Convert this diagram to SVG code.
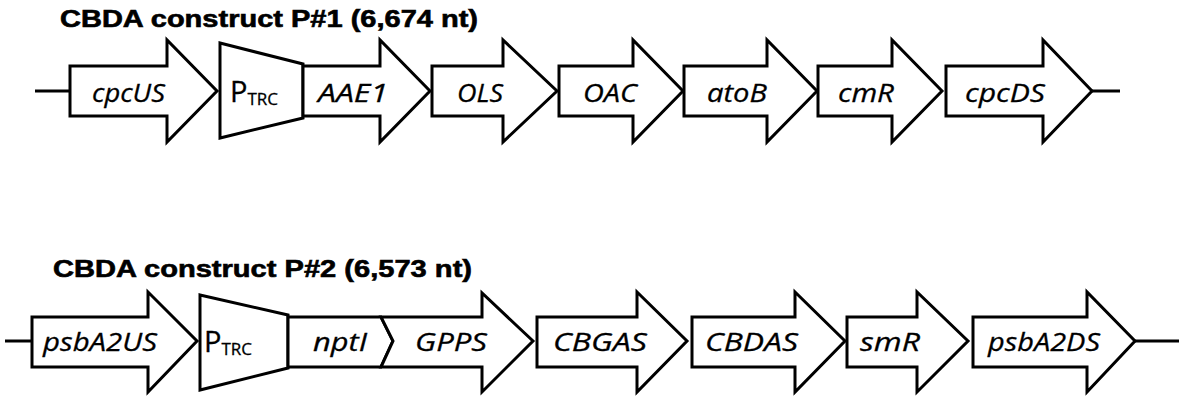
<svg xmlns="http://www.w3.org/2000/svg" width="1179" height="396" viewBox="0 0 1179 396">
<style>
.shape{fill:#fff;stroke:#000;stroke-width:3;stroke-linejoin:miter}
.ln{stroke:#000;stroke-width:3;fill:none}
.title{font-family:"Liberation Sans",Arial,sans-serif;font-weight:bold;font-size:23px;fill:#000;stroke:#000;stroke-width:0.6}
.lab{font-family:"Open Sans","Liberation Sans",sans-serif;font-style:italic;font-size:26px;fill:#000;stroke:#000;stroke-width:0.3}
.p{font-family:"Open Sans","Liberation Sans",sans-serif;font-size:29px;fill:#000;stroke:#000;stroke-width:0.3}
.sub{font-size:17px}
</style>
<rect width="1179" height="396" fill="#fff"/>
<text class="title" x="60" y="27" textLength="418" lengthAdjust="spacingAndGlyphs">CBDA construct P#1 (6,674 nt)</text>
<text class="title" x="53" y="277" textLength="419" lengthAdjust="spacingAndGlyphs">CBDA construct P#2 (6,573 nt)</text>
<g id="connectors">
<line class="ln" x1="35" y1="91" x2="70" y2="91"/>
<line class="ln" x1="1092" y1="91" x2="1120" y2="91"/>
<line class="ln" x1="5" y1="341" x2="32" y2="341"/>
<line class="ln" x1="1135" y1="341" x2="1179" y2="341"/>
</g>
<g id="cpcUS"><polygon class="shape" points="70,66 167,66 167,40 217,91 167,142 167,116 70,116"/><text class="lab" x="92" y="102" textLength="73" lengthAdjust="spacingAndGlyphs">cpcUS</text></g>
<g id="PTRC1"><polygon class="shape" points="220,43 303,64 303,118 220,138"/><text class="p" x="230" y="102">P<tspan class="sub" dy="3">TRC</tspan></text></g>
<g id="AAE1"><polygon class="shape" points="303,66 380,66 380,40 430,91 380,142 380,116 303,116"/><text class="lab" x="318" y="102" textLength="70" lengthAdjust="spacingAndGlyphs">AAE1</text></g>
<g id="OLS"><polygon class="shape" points="432,66 503,66 503,40 557,91 503,142 503,116 432,116"/><text class="lab" x="457" y="102" textLength="46" lengthAdjust="spacingAndGlyphs">OLS</text></g>
<g id="OAC"><polygon class="shape" points="559,66 633,66 633,40 683,91 633,142 633,116 559,116"/><text class="lab" x="583" y="102" textLength="54" lengthAdjust="spacingAndGlyphs">OAC</text></g>
<g id="atoB"><polygon class="shape" points="684,66 767,66 767,40 817,91 767,142 767,116 684,116"/><text class="lab" x="707" y="102" textLength="60" lengthAdjust="spacingAndGlyphs">atoB</text></g>
<g id="cmR"><polygon class="shape" points="818,66 892,66 892,40 942,91 892,142 892,116 818,116"/><text class="lab" x="838" y="102" textLength="56" lengthAdjust="spacingAndGlyphs">cmR</text></g>
<g id="cpcDS"><polygon class="shape" points="946,66 1043,66 1043,40 1092,91 1043,142 1043,116 946,116"/><text class="lab" x="965" y="102" textLength="80" lengthAdjust="spacingAndGlyphs">cpcDS</text></g>

<g id="psbA2US"><polygon class="shape" points="32,317 148,317 148,292 197,341 148,392 148,367 32,367"/><text class="lab" x="43" y="351" textLength="114" lengthAdjust="spacingAndGlyphs">psbA2US</text></g>
<g id="PTRC2"><polygon class="shape" points="200,295 288,315 288,368 200,390"/><text class="p" x="204" y="352">P<tspan class="sub" dy="3">TRC</tspan></text></g>
<g id="nptI"><polygon class="shape" points="288,317 381,317 393,341 381,367 288,367"/><text class="lab" x="313" y="351" textLength="54" lengthAdjust="spacingAndGlyphs">nptI</text></g>
<g id="GPPS"><polygon class="shape" points="381,317 482,317 482,293 533,341 482,392 482,367 381,367 393,341"/><text class="lab" x="415" y="351" textLength="72" lengthAdjust="spacingAndGlyphs">GPPS</text></g>
<g id="CBGAS"><polygon class="shape" points="537,317 637,317 637,292 687,341 637,392 637,367 537,367"/><text class="lab" x="553" y="351" textLength="94" lengthAdjust="spacingAndGlyphs">CBGAS</text></g>
<g id="CBDAS"><polygon class="shape" points="692,317 795,317 795,292 845,341 795,392 795,367 692,367"/><text class="lab" x="705" y="351" textLength="93" lengthAdjust="spacingAndGlyphs">CBDAS</text></g>
<g id="smR"><polygon class="shape" points="847,317 917,317 917,292 968,341 917,392 917,367 847,367"/><text class="lab" x="860" y="351" textLength="60" lengthAdjust="spacingAndGlyphs">smR</text></g>
<g id="psbA2DS"><polygon class="shape" points="973,317 1087,317 1087,292 1135,341 1087,392 1087,367 973,367"/><text class="lab" x="988" y="351" textLength="112" lengthAdjust="spacingAndGlyphs">psbA2DS</text></g>
</svg>
